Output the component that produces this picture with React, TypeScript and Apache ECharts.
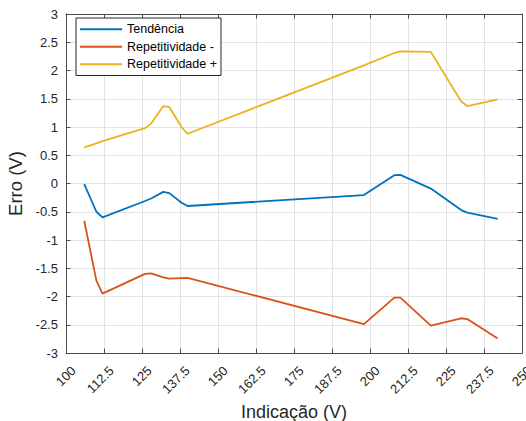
import React, { useEffect, useRef } from "react";
import * as echarts from "echarts";

const indicacao = [106, 110, 112, 126, 128, 132, 134, 138, 140, 198, 208, 210, 220, 230, 232, 242];
const tendencia = [-0.01, -0.5, -0.6, -0.31, -0.265, -0.148, -0.17, -0.34, -0.398, -0.205, 0.147, 0.152, -0.09, -0.47, -0.515, -0.625];
const repMenos = [-0.66, -1.72, -1.95, -1.6, -1.59, -1.66, -1.685, -1.675, -1.67, -2.49, -2.02, -2.02, -2.515, -2.385, -2.4, -2.745];
const repMais = [0.64, 0.71, 0.75, 0.98, 1.06, 1.37, 1.35, 1.0, 0.88, 2.09, 2.31, 2.34, 2.33, 1.45, 1.37, 1.49];

const seriesNames = ["Tendência", "Repetitividade -", "Repetitividade +"];
const colors = ["#0072BD", "#D95319", "#EDB120"];

const FONT = "'Liberation Sans', Arial, Helvetica, sans-serif";
const AX = "#4a4a4a";
const GRID = "#e3e3e3";

export default function App() {
  const ref = useRef<HTMLDivElement>(null);
  useEffect(() => {
    if (!ref.current) return;
    const chart = echarts.init(ref.current, undefined, { renderer: "svg" });
    const pairs = (ys: number[]) => indicacao.map((x, i) => [x, ys[i]]);
    const xBase = {
      type: "value" as const,
      min: 100,
      max: 250,
      interval: 12.5,
      axisLine: { show: true, onZero: false, lineStyle: { color: AX, width: 1 } },
      axisTick: { show: true, inside: true, length: 4.5, lineStyle: { color: AX } },
    };
    const yBase = {
      type: "value" as const,
      min: -3,
      max: 3,
      interval: 0.5,
      axisLine: { show: true, onZero: false, lineStyle: { color: AX, width: 1 } },
      axisTick: { show: true, inside: true, length: 4.5, lineStyle: { color: AX } },
    };
    chart.setOption({
      animation: false,
      textStyle: { fontFamily: FONT },
      grid: {
        left: 66,
        right: 4,
        top: 14,
        bottom: 68,
        containLabel: false,
        outerBoundsMode: "none",
      },
      legend: {
        data: seriesNames,
        orient: "vertical",
        left: 76,
        top: 18,
        icon: "rect",
        itemWidth: 42,
        itemHeight: 1.8,
        itemGap: 3,
        padding: [4, 4, 4, 4],
        borderColor: "#262626",
        borderWidth: 1,
        backgroundColor: "#ffffff",
        textStyle: { fontFamily: FONT, fontSize: 12.5, color: "#000", lineHeight: 14.5 },
      },
      xAxis: [
        {
          ...xBase,
          position: "bottom",
          name: "Indicação (V)",
          nameLocation: "middle",
          nameGap: 48,
          nameTextStyle: { fontFamily: FONT, fontSize: 18, lineHeight: 18, color: "#262626" },
          axisLabel: {
            rotate: 45,
            margin: 8,
            fontSize: 13,
            color: "#262626",
            fontFamily: FONT,
            verticalAlign: "top",
            padding: [4, 0, 0, 0],
          },
          splitLine: { show: true, lineStyle: { color: GRID, width: 1 } },
        },
        {
          ...xBase,
          position: "top",
          axisLabel: { show: false },
          splitLine: { show: false },
        },
      ],
      yAxis: [
        {
          ...yBase,
          position: "left",
          name: "Erro (V)",
          nameLocation: "middle",
          nameGap: 37,
          nameTextStyle: { fontFamily: FONT, fontSize: 18.5, color: "#262626" },
          axisLabel: { margin: 8, fontSize: 13, color: "#262626", fontFamily: FONT },
          splitLine: { show: true, lineStyle: { color: GRID, width: 1 } },
        },
        {
          ...yBase,
          position: "right",
          axisLabel: { show: false },
          splitLine: { show: false },
        },
      ],
      series: [tendencia, repMenos, repMais].map((ys, i) => ({
        name: seriesNames[i],
        type: "line",
        data: pairs(ys),
        symbol: "none",
        color: colors[i],
        lineStyle: { color: colors[i], width: 1.8 },
        xAxisIndex: 0,
        yAxisIndex: 0,
      })),
    });
    return () => chart.dispose();
  }, []);
  return (
    <div
      ref={ref}
      style={{ position: "fixed", left: 0, top: 0, width: 526, height: 421, background: "#fff" }}
    />
  );
}
